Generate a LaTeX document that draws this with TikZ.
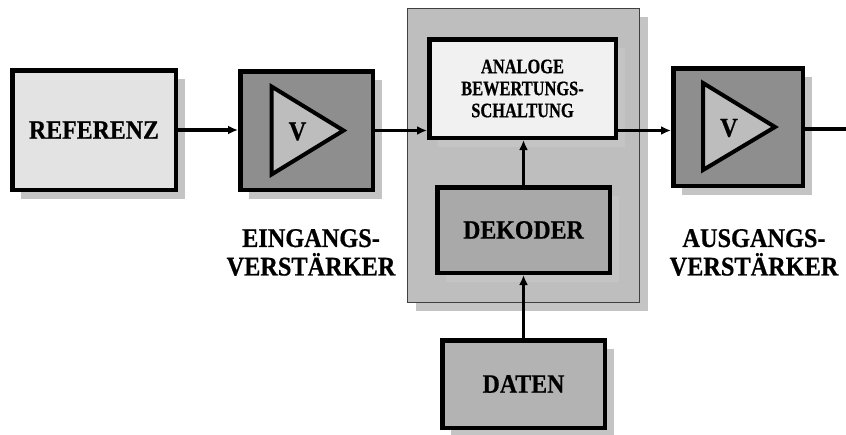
\documentclass[tikz,border=0pt]{standalone}
\usepackage{fontspec}
\setmainfont[FakeStretch=0.9, BoldFeatures={FakeBold=0.6}]{Liberation Serif}
\newfontfamily\narrowserif[FakeStretch=0.8, BoldFeatures={FakeBold=0.6}]{Liberation Serif}
\usetikzlibrary{shadows,arrows.meta}

\definecolor{refgray}{HTML}{E3E3E3}
\definecolor{ampgray}{HTML}{8E8E8E}
\definecolor{trigray}{HTML}{BDBDBD}
\definecolor{panelgray}{HTML}{BEBEBE}
\definecolor{anagray}{HTML}{F1F1F1}
\definecolor{dekgray}{HTML}{A9A9A9}
\definecolor{datgray}{HTML}{B3B3B3}
\definecolor{shadowgray}{HTML}{C4C4C4}

\tikzset{
  shade box/.style={drop shadow={shadow xshift=9pt, shadow yshift=-9pt,
                    fill=shadowgray, opacity=1}},
  block/.style={draw=black, line width=4.5pt, inner sep=0pt, shade box,
                font=\fontsize{26.5}{29}\selectfont\bfseries, align=center},
  panel/.style={draw=black!75, line width=1pt, fill=panelgray, inner sep=0pt,
                shade box},
  tri/.style={draw=black, line width=4pt, fill=trigray, line join=miter},
  lbl/.style={font=\fontsize{27}{28.5}\selectfont\bfseries, align=center},
  flow/.style={draw=black, line width=3.5pt,
               -{Latex[length=10pt,width=9pt]}},
  wire/.style={draw=black, line width=3.5pt}
}

\begin{document}
\begin{tikzpicture}[x=1pt, y=-1pt]
  \useasboundingbox (0,0) rectangle (846,434);

  % reference source
  \node[block, fill=refgray, minimum width=163.5pt, minimum height=119.5pt]
    (ref) at (94,130) {REFERENZ};

  % input amplifier
  \node[block, fill=ampgray, minimum width=132.5pt, minimum height=118.5pt]
    (amp1) at (306.5,130.5) {};
  \draw[tri] ([shift={(-35,-44)}]amp1.center) -- ([shift={(37,0)}]amp1.center)
    -- ([shift={(-35,44)}]amp1.center) -- cycle;
  \node[lbl] (v1) at ([shift={(-9,1)}]amp1.center) {V};
  \node[lbl] (inlbl) at (311,252.5) {EINGANGS-\\VERSTÄRKER};

  % weighting unit with decoder
  \node[panel, minimum width=232pt, minimum height=294pt] (pan) at (523,155) {};
  \node[block, fill=anagray, minimum width=186.5pt, minimum height=98.5pt,
        font=\narrowserif\fontsize{20.5}{22}\selectfont\bfseries]
    (ana) at (522.5,88.5) {ANALOGE\\BEWERTUNGS-\\SCHALTUNG};
  \node[block, fill=dekgray, minimum width=172.5pt, minimum height=85.5pt]
    (dek) at (523.5,230) {DEKODER};

  % data source
  \node[block, fill=datgray, minimum width=162.5pt, minimum height=87.5pt]
    (dat) at (523.5,384) {DATEN};

  % output amplifier
  \node[block, fill=ampgray, minimum width=129.5pt, minimum height=117.5pt]
    (amp2) at (738,127) {};
  \draw[tri] ([shift={(-35,-44)}]amp2.center) -- ([shift={(37,0)}]amp2.center)
    -- ([shift={(-35,43)}]amp2.center) -- cycle;
  \node[lbl] (v2) at ([shift={(-9,1)}]amp2.center) {V};
  \node[lbl] (outlbl) at (754,252.5) {AUSGANGS-\\VERSTÄRKER};

  \coordinate (out) at (846,129);

  % signal path
  \draw[flow] (ref.east) -- (amp1.west |- ref.east);
  \draw[flow] (amp1.east) -- (amp1.east -| ana.west);
  \draw[flow] (ana.east |- amp1.east) -- (amp2.west |- amp1.east);
  \draw[wire] (amp2.east |- out) -- (out);
  \draw[flow] (dek.north) -- (dek.north |- ana.south);
  \draw[flow] (dat.north) -- (dat.north |- dek.south);
\end{tikzpicture}
\end{document}
